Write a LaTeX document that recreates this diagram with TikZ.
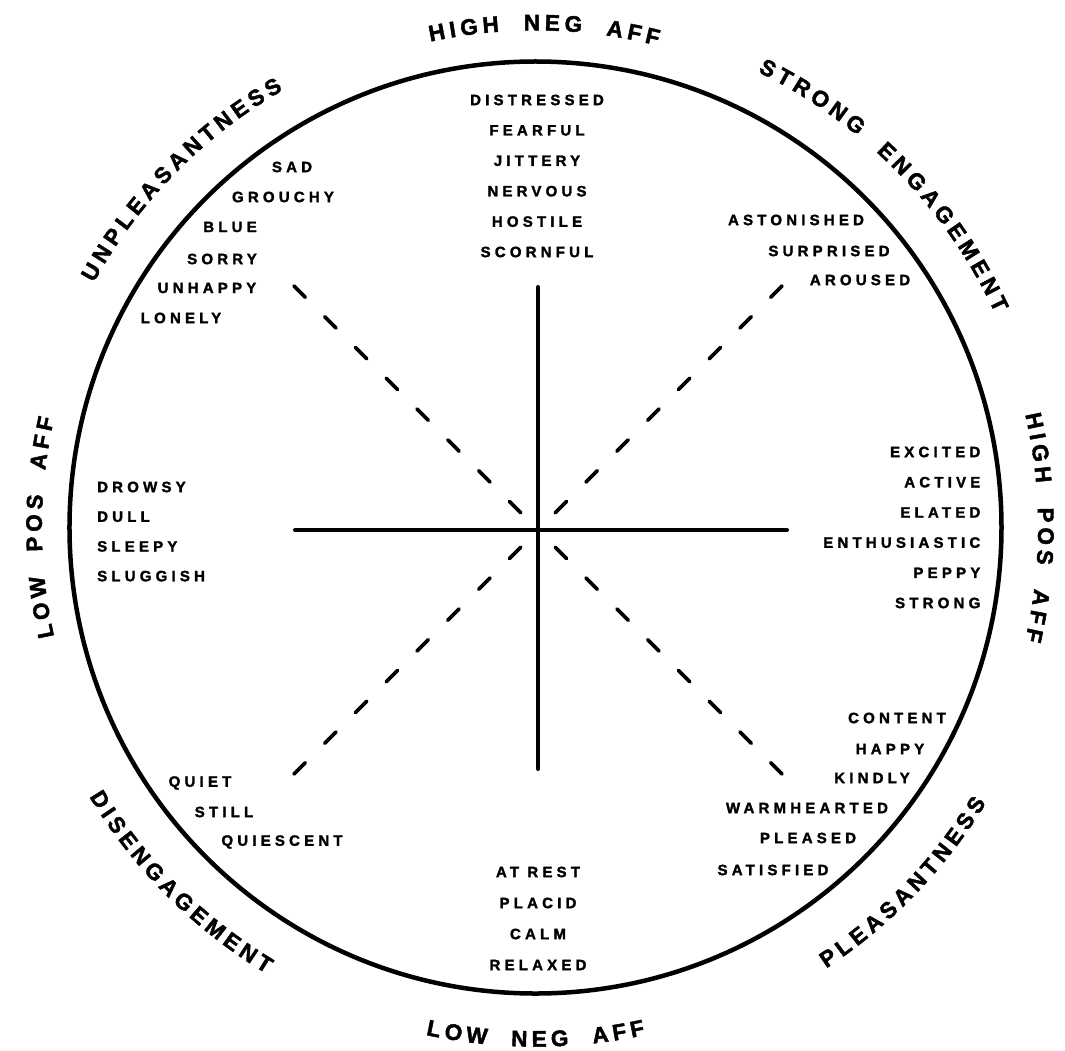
\documentclass[tikz,border=0pt]{standalone}
\usepackage{fontspec}
\setmainfont{Liberation Sans}
\newfontfamily\wordfont{Liberation Sans}[LetterSpace=28,FakeBold=1.8]
\newfontfamily\arcfont{Liberation Sans}[FakeBold=2]
\usetikzlibrary{decorations.text}
\newcommand\arclabel{\arcfont\bfseries\fontsize{22.5}{24}\selectfont}
\newcommand\lsp{\kern4.5pt}
\newcommand\wsp{\kern20pt}

\tikzset{
  word/.style={font=\wordfont\bfseries\fontsize{15}{16}\selectfont,inner sep=0pt},
  axis/.style={line width=4pt,line cap=round},
  diag/.style={line width=3.8pt,line cap=round,dash pattern=on 16pt off 27.5pt},
  rim/.style={line width=4.5pt},
  rimlabel/.style={decorate,decoration={text along path,text align=center,text={|\arclabel|#1}}},
}

\begin{document}
\begin{tikzpicture}[x=1pt,y=1pt]
  \useasboundingbox (-535.5,-522.5) rectangle (529.5,527.5);
  \coordinate (o) at (0,0);
  \draw[rim] (o) circle[radius=466];

  % axes through the centre
  \coordinate (ctr) at (2.5,-2.5);
  \foreach \nm/\ang/\len in {e/0/249,n/90/243,w/180/243,s/270/239,ne/45/345,nw/135/345,sw/225/345,se/315/345}
    \coordinate (\nm) at ([shift={(\ang:\len)}]ctr);
  \draw[axis] (w) -- (e);
  \draw[axis] (n) -- (s);
  \foreach \p in {ne,nw,sw,se}{\draw[diag] (\p) -- (ctr);}

  % labels round the rim (letters spaced by hand)
  \path[rimlabel={{H\lsp}{I\lsp}{G\lsp}{H\lsp}{\wsp}{N\lsp}{E\lsp}{G\lsp}{\wsp}{A\lsp}{F\lsp}{F}}]
    (159:497) arc[start angle=159,end angle=19,radius=497];
  \path[rimlabel={{S\lsp}{T\lsp}{R\lsp}{O\lsp}{N\lsp}{G\lsp}{\wsp}{E\lsp}{N\lsp}{G\lsp}{A\lsp}{G\lsp}{E\lsp}{M\lsp}{E\lsp}{N\lsp}{T}}]
    (114.5:507) arc[start angle=114.5,end angle=-25.5,radius=507];
  \path[rimlabel={{H\lsp}{I\lsp}{G\lsp}{H\lsp}{\wsp}{P\lsp}{O\lsp}{S\lsp}{\wsp}{A\lsp}{F\lsp}{F}}]
    (70:502.5) arc[start angle=70,end angle=-70,radius=502.5];
  \path[rimlabel={{L\lsp}{O\lsp}{W\lsp}{\wsp}{P\lsp}{O\lsp}{S\lsp}{\wsp}{A\lsp}{F\lsp}{F}}]
    (250:493.5) arc[start angle=250,end angle=110,radius=493.5];
  \path[rimlabel={{U\lsp}{N\lsp}{P\lsp}{L\lsp}{E\lsp}{A\lsp}{S\lsp}{A\lsp}{N\lsp}{T\lsp}{N\lsp}{E\lsp}{S\lsp}{S}}]
    (205.5:505) arc[start angle=205.5,end angle=65.5,radius=505];
  \path[rimlabel={{L\lsp}{O\lsp}{W\lsp}{\wsp}{N\lsp}{E\lsp}{G\lsp}{\wsp}{A\lsp}{F\lsp}{F}}]
    (200:519) arc[start angle=200,end angle=340,radius=519];
  \path[rimlabel={{P\lsp}{L\lsp}{E\lsp}{A\lsp}{S\lsp}{A\lsp}{N\lsp}{T\lsp}{N\lsp}{E\lsp}{S\lsp}{S}}]
    (-114:528) arc[start angle=-114,end angle=26,radius=528];
  \path[rimlabel={{D\lsp}{I\lsp}{S\lsp}{E\lsp}{N\lsp}{G\lsp}{A\lsp}{G\lsp}{E\lsp}{M\lsp}{E\lsp}{N\lsp}{T}}]
    (155:521) arc[start angle=155,end angle=295,radius=521];

  % word lists
  \foreach \w [count=\i from 0] in {DISTRESSED,FEARFUL,JITTERY,NERVOUS,HOSTILE,SCORNFUL}
    \node[word] (highneg\i) at (1.5,427.5-30.4*\i) {\w};
  \foreach \w [count=\i from 0] in {DROWSY,DULL,SLEEPY,SLUGGISH}
    \node[word,anchor=west] (lowpos\i) at (-438.5,40.5-29.7*\i) {\w};
  \foreach \w [count=\i from 0] in {EXCITED,ACTIVE,ELATED,ENTHUSIASTIC,PEPPY,STRONG}
    \node[word,anchor=east] (highpos\i) at (445,75.5-30.2*\i) {\w};
  \foreach \w [count=\i from 0] in {AT REST,PLACID,CALM,RELAXED}
    \node[word] (lowneg\i) at (2.5,-344.5-31*\i) {\w};
  \foreach \w/\x/\y [count=\i] in {SAD/-243.5/360.5,GROUCHY/-252.5/330.5,BLUE/-305.5/300.5,SORRY/-313.5/268.5,UNHAPPY/-328.5/239.5,LONELY/-354.5/209.5}
    \node[word] (unpl\i) at (\x,\y) {\w};
  \foreach \w/\x/\y [count=\i] in {ASTONISHED/260.5/307.5,SURPRISED/293.5/276.5,AROUSED/324.5/247.5}
    \node[word] (strong\i) at (\x,\y) {\w};
  \foreach \w/\x/\y [count=\i] in {QUIET/-335.5/-255.5,STILL/-311.5/-284.5,QUIESCENT/-253.5/-314.5}
    \node[word] (diseng\i) at (\x,\y) {\w};
  \foreach \w/\x/\y [count=\i] in {CONTENT/361.5/-190.5,HAPPY/354.5/-221.5,KINDLY/336.5/-250.5,WARMHEARTED/271.5/-280.5,PLEASED/272.5/-310.5,SATISFIED/237.5/-342.5}
    \node[word] (pleas\i) at (\x,\y) {\w};
\end{tikzpicture}
\end{document}
